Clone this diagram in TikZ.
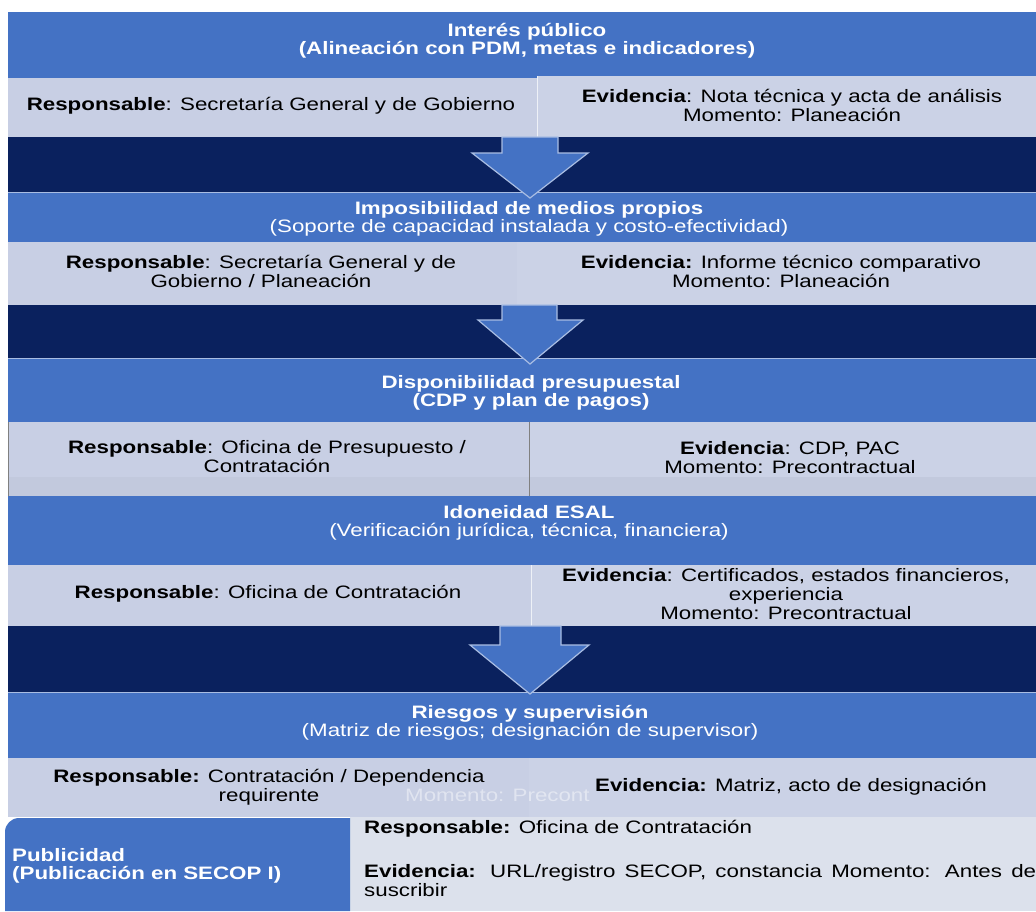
\documentclass[tikz,border=0pt]{standalone}
\usepackage{fontspec}
\setmainfont[FakeStretch=1.24]{Liberation Sans}
\definecolor{hblue}{HTML}{4472C4}
\definecolor{lband}{HTML}{C8CFE4}
\definecolor{rcell}{HTML}{CBD2E6}
\definecolor{navy}{HTML}{0A215E}
\definecolor{pale}{HTML}{DCE1EC}
\definecolor{edgeblue}{HTML}{A9BDE3}
\begin{document}
\begin{tikzpicture}[x=1pt,y=-1pt,
  hdr/.style={text=white,font=\fontsize{18}{18.5}\selectfont,align=center,inner sep=0pt},
  body/.style={text=black,font=\fontsize{18}{19}\selectfont,align=center,inner sep=0pt},
  arrowshape/.style={fill=hblue,draw=edgeblue,line width=1.2pt,line join=miter},
  sep/.style={draw=edgeblue,line width=1pt}]
\useasboundingbox (0,0) rectangle (1036,911);
\fill[white] (0,0) rectangle (1036,911);
% headers
\fill[hblue] (8,12) rectangle (1036,78);
\fill[hblue] (8,192) rectangle (1036,242);
\fill[hblue] (8,358) rectangle (1036,422);
\fill[hblue] (8,496) rectangle (1036,565);
\fill[hblue] (8,692) rectangle (1036,758);
% light bands
\fill[lband] (8,78) rectangle (1036,137);
\fill[rcell] (537,76) rectangle (1036,137);
\draw[white!70!lband,line width=1pt] (537,76) -- (537,137);
\fill[lband] (8,242) rectangle (1036,305);
\fill[rcell] (517,242) rectangle (1036,305);
\fill[lband] (8,422) rectangle (1036,496);
\fill[rcell] (529,422) rectangle (1036,496);
\fill[black!3!lband] (8,477) rectangle (1036,496);
\draw[gray,line width=0.8pt] (529,422) -- (529,496);
\draw[gray,line width=0.8pt] (8,422) -- (8,496);
\fill[lband] (8,565) rectangle (1036,626);
\fill[rcell] (531,565) rectangle (1036,626);
\draw[white!70!lband,line width=1pt] (531,565) -- (531,626);
\fill[lband] (8,758) rectangle (1036,817);
\fill[rcell] (529,758) rectangle (1036,817);
% dark bands
\fill[navy] (8,137) rectangle (1036,192);
\fill[navy] (8,305) rectangle (1036,358);
\fill[navy] (8,626) rectangle (1036,692);
\draw[sep] (8,192) -- (1036,192);
\draw[sep] (8,358) -- (1036,358);
\draw[sep] (8,692) -- (1036,692);
% arrows
\draw[arrowshape] (502,137) -- (558,137) -- (558,153) -- (588,153) -- (530,198) -- (472,153) -- (502,153) -- cycle;
\draw[arrowshape] (502,305) -- (557,305) -- (557,320) -- (583,320) -- (530,364) -- (478,320) -- (502,320) -- cycle;
\draw[arrowshape] (500,626) -- (561,626) -- (561,645) -- (589,645) -- (530,694) -- (470,645) -- (500,645) -- cycle;
% bottom row
\fill[pale] (350,817) rectangle (1036,911);
\fill[hblue] (350,818) -- (19,818) arc[start angle=270,end angle=180,radius=14] -- (5,911) -- (350,911) -- cycle;
% header texts
\node[hdr] (h1) at (527,41) {\textbf{Interés público}\\\textbf{(Alineación con PDM, metas e indicadores)}};
\node[hdr] (h2) at (529,219) {\textbf{Imposibilidad de medios propios}\\(Soporte de capacidad instalada y costo-efectividad)};
\node[hdr] (h3) at (531,393) {\textbf{Disponibilidad presupuestal}\\\textbf{(CDP y plan de pagos)}};
\node[hdr] (h4) at (529,523) {\textbf{Idoneidad ESAL}\\(Verificación jurídica, técnica, financiera)};
\node[hdr] (h5) at (530,723) {\textbf{Riesgos y supervisión}\\(Matriz de riesgos; designación de supervisor)};
% body texts
\node[body] (r1) at (271,106) {\textbf{Responsable}: Secretaría General y de Gobierno};
\node[body] (e1) at (792,105) {\textbf{Evidencia}: Nota técnica y acta de análisis\\Momento: Planeación};
\node[body] (r2) at (261,271) {\textbf{Responsable}: Secretaría General y de\\Gobierno / Planeación};
\node[body] (e2) at (781,271) {\textbf{Evidencia:} Informe técnico comparativo\\Momento: Planeación};
\node[body] (r3) at (267,457) {\textbf{Responsable}: Oficina de Presupuesto /\\Contratación};
\node[body] (e3) at (790,458) {\textbf{Evidencia}: CDP, PAC\\Momento: Precontractual};
\node[body] (r4) at (268,594) {\textbf{Responsable}: Oficina de Contratación};
\node[body] (e4) at (786,594) {\textbf{Evidencia}: Certificados, estados financieros,\\experiencia\\Momento: Precontractual};
\node[body,text=white,opacity=0.45,anchor=west] (g5) at (405,795) {Momento: Precont};
\node[body] (r5) at (269,787) {\textbf{Responsable:} Contratación / Dependencia\\requirente};
\node[body] (e5) at (791,787) {\textbf{Evidencia:} Matriz, acto de designación};
% bottom texts
\node[hdr,align=left,anchor=west] (p6) at (12,866) {\textbf{Publicidad}\\\textbf{(Publicación en SECOP I)}};
\node[body,align=left,anchor=west] (r6) at (364,829) {\textbf{Responsable:} Oficina de Contratación};
\node[body,align=justify,text width=672pt,anchor=north west] (e6) at (364,864) {\textbf{Evidencia:} URL/registro SECOP, constancia Momento: Antes de\linebreak suscribir};
\end{tikzpicture}
\end{document}
